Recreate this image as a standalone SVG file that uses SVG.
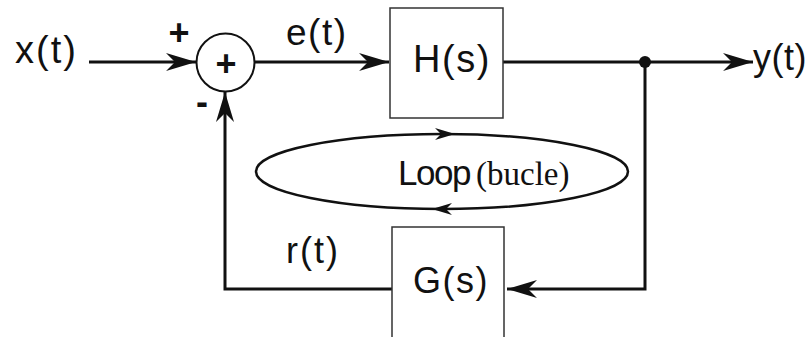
<svg xmlns="http://www.w3.org/2000/svg" width="809" height="337" viewBox="0 0 809 337">
<style>
.t{font-family:"Liberation Sans",Arial,sans-serif;fill:#111}
.s{font-family:"Liberation Serif","Times New Roman",serif;fill:#111}
.ln{fill:none;stroke:#111;stroke-width:3}
.bx{fill:#fff;stroke:#333;stroke-width:1.5}
</style>
<defs>
<marker id="ah" markerWidth="30" markerHeight="18" refX="30" refY="9" orient="auto" markerUnits="userSpaceOnUse">
<path d="M0,0 L30,9 L0,18 L9,9 Z" fill="#111"/>
</marker>
</defs>
<rect width="809" height="337" fill="#fff"/>
<g id="connectors">
<line class="ln" x1="89" y1="62" x2="196" y2="62" marker-end="url(#ah)"/>
<line class="ln" x1="255" y1="62" x2="389" y2="62" marker-end="url(#ah)"/>
<line class="ln" x1="503" y1="62" x2="753" y2="62" marker-end="url(#ah)"/>
<polyline class="ln" points="645,62 645,289 507,289" marker-end="url(#ah)"/>
<polyline class="ln" points="392,289 225,289 225,92" marker-end="url(#ah)"/>
<circle cx="645" cy="62" r="6" fill="#111"/>
</g>
<g id="sum">
<circle cx="225.5" cy="62.5" r="29" fill="#fff" stroke="#111" stroke-width="2"/>
<text class="t" x="226" y="76" font-size="36" font-weight="bold" text-anchor="middle">+</text>
</g>
<g id="labels">
<text class="t" x="15" y="63" font-size="38" letter-spacing="2">x(t)</text>
<text class="t" x="179" y="45" font-size="36" font-weight="bold" text-anchor="middle">+</text>
<text class="t" x="196" y="114" font-size="36" font-weight="bold">-</text>
<text class="t" x="286" y="45" font-size="37" letter-spacing="1.5">e(t)</text>
<text class="t" x="753" y="70" font-size="36" letter-spacing="0.5">y(t)</text>
<text class="t" x="286" y="263" font-size="36" letter-spacing="2">r(t)</text>
</g>
<g id="H">
<rect class="bx" x="390" y="8" width="113" height="110"/>
<text class="t" x="452" y="72" font-size="38" text-anchor="middle" letter-spacing="1.5">H(s)</text>
</g>
<g id="G">
<rect class="bx" x="392" y="227" width="112" height="115"/>
<text class="t" x="451" y="293" font-size="36" text-anchor="middle" letter-spacing="1.5">G(s)</text>
</g>
<g id="loop">
<ellipse cx="442" cy="171.5" rx="186" ry="37.5" fill="none" stroke="#111" stroke-width="2.5"/>
<path d="M455,134 L435,128 L441,134 L435,140 Z" fill="#111"/>
<path d="M432,209 L452,203 L446,209 L452,215 Z" fill="#111"/>
<text class="t" x="398" y="185" font-size="35" letter-spacing="-1.5">Loop</text>
<text class="s" x="476" y="185" font-size="33">(bucle)</text>
</g>
</svg>
